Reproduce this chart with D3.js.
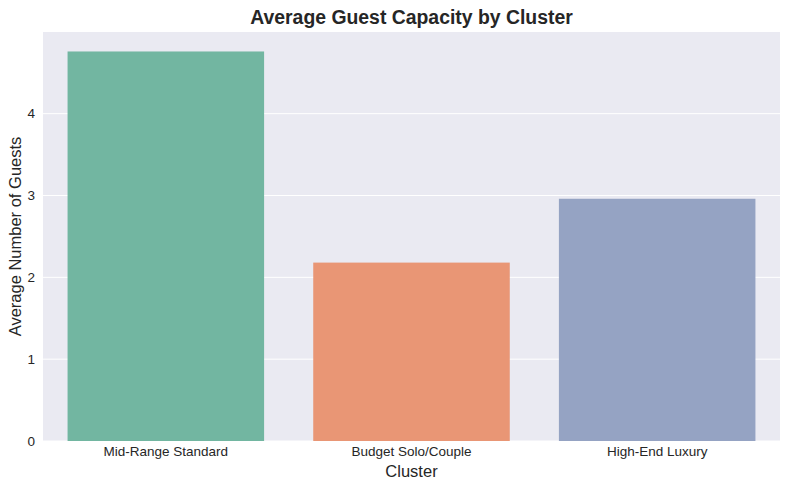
<!DOCTYPE html>
<html><head><meta charset="utf-8">
<script src="https://cdn.jsdelivr.net/npm/d3@7"></script>
<style>body{margin:0;background:#fff;}svg{display:block;font-family:"Liberation Sans",Arial,sans-serif;}</style>
</head><body><svg id="c" width="790" height="490"></svg>
<script>
const categories = ["Mid-Range Standard", "Budget Solo/Couple", "High-End Luxury"];
const values = [4.76, 2.18, 2.96];
const colors = ["#72b6a1", "#e99675", "#95a3c3"];
const yTicks = [0, 1, 2, 3, 4];

const W = 790, H = 490;
const m = {l: 43, r: 10, t: 32, b: 49};
const svg = d3.select("#c");
const pw = W - m.l - m.r, ph = H - m.t - m.b;
const g = svg.append("g").attr("transform", `translate(${m.l},${m.t})`);

const x = d3.scaleBand().domain(categories).range([0, pw]).paddingInner(0.2).paddingOuter(0.1);
const y = d3.scaleLinear().domain([0, d3.max(values) * 1.05]).range([ph, 0]);

g.append("rect").attr("width", pw).attr("height", ph).attr("fill", "#eaeaf2");
g.selectAll(".grid").data(yTicks).join("line")
  .attr("x1", 0).attr("x2", pw).attr("y1", d => y(d)).attr("y2", d => y(d))
  .attr("stroke", "#fff").attr("stroke-width", 1);

g.selectAll(".bar").data(values).join("rect")
  .attr("x", (d, i) => x(categories[i])).attr("width", x.bandwidth())
  .attr("y", d => y(d)).attr("height", d => ph - y(d))
  .attr("fill", (d, i) => colors[i]);

const ya = g.append("g").call(d3.axisLeft(y).tickValues(yTicks).tickFormat(d3.format("d")).tickSize(0).tickPadding(8));
ya.select(".domain").remove();
ya.selectAll("text").attr("font-size", 13.5).attr("fill", "#262626").attr("font-family", "Liberation Sans, Arial, sans-serif");

const xa = g.append("g").attr("transform", `translate(0,${ph})`).call(d3.axisBottom(x).tickSize(0).tickPadding(5));
xa.select(".domain").remove();
xa.selectAll("text").attr("font-size", 13.5).attr("fill", "#262626").attr("font-family", "Liberation Sans, Arial, sans-serif");

svg.append("text").attr("x", m.l + pw / 2).attr("y", 24).attr("text-anchor", "middle")
  .attr("font-size", 19.4).attr("font-weight", "bold").attr("fill", "#262626").text("Average Guest Capacity by Cluster");
svg.append("text").attr("x", m.l + pw / 2).attr("y", 477).attr("text-anchor", "middle")
  .attr("font-size", 16.5).attr("fill", "#262626").text("Cluster");
svg.append("text").attr("transform", `translate(21,${m.t + ph / 2}) rotate(-90)`).attr("text-anchor", "middle")
  .attr("font-size", 16.5).attr("fill", "#262626").text("Average Number of Guests");
</script></body></html>
